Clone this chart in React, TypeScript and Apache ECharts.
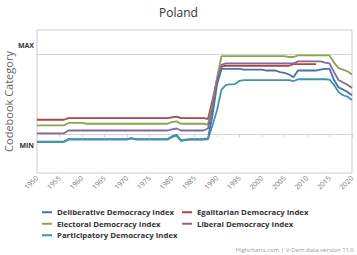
import React, { useEffect, useRef } from "react";
import * as echarts from "echarts";

const startYear = 1950;
const bandStartYear = 1988;
const xTicks = { min: 1950, max: 2020, step: 5 };
const gridValues = [0, 1];
const yLabelValues = [-0.138, 1.109];

const deliberative = [
  -0.095, -0.095, -0.095, -0.095, -0.095, -0.095, -0.095, -0.063, -0.063, -0.063,
  -0.063, -0.063, -0.063, -0.063, -0.063, -0.063, -0.063, -0.063, -0.063, -0.063,
  -0.063, -0.05, -0.063, -0.063, -0.063, -0.063, -0.063, -0.063, -0.063, -0.063,
  -0.03, -0.01, -0.08, -0.07, -0.065, -0.065, -0.065, -0.065, -0.055, 0.24,
  0.62, 0.82, 0.82, 0.82, 0.82, 0.82, 0.81, 0.81, 0.81, 0.81,
  0.81, 0.8, 0.8, 0.8, 0.78, 0.77, 0.75, 0.715, 0.8, 0.8,
  0.8, 0.8, 0.8, 0.81, 0.82, 0.82, 0.68, 0.59, 0.56, 0.53,
  0.49,
];
const egalitarian = [
  0.18, 0.18, 0.18, 0.18, 0.18, 0.18, 0.18, 0.2, 0.2, 0.2,
  0.2, 0.2, 0.2, 0.2, 0.2, 0.2, 0.2, 0.2, 0.2, 0.2,
  0.2, 0.2, 0.2, 0.2, 0.2, 0.2, 0.2, 0.2, 0.2, 0.2,
  0.21, 0.22, 0.2, 0.2, 0.2, 0.2, 0.2, 0.2, 0.19, 0.43,
  0.68, 0.85, 0.86, 0.86, 0.86, 0.86, 0.86, 0.86, 0.86, 0.86,
  0.86, 0.86, 0.86, 0.86, 0.86, 0.86, 0.86, 0.88, 0.88, 0.88,
  0.88, 0.88, 0.88, null, null, null, null, null, null, null,
  null,
];
const electoral = [
  0.11, 0.11, 0.11, 0.11, 0.11, 0.11, 0.11, 0.14, 0.14, 0.14,
  0.14, 0.13, 0.13, 0.13, 0.13, 0.13, 0.13, 0.13, 0.13, 0.13,
  0.13, 0.13, 0.13, 0.13, 0.13, 0.13, 0.13, 0.13, 0.13, 0.13,
  0.15, 0.16, 0.13, 0.13, 0.13, 0.13, 0.13, 0.13, 0.12, 0.38,
  0.71, 0.98, 0.98, 0.98, 0.98, 0.98, 0.98, 0.98, 0.98, 0.98,
  0.98, 0.98, 0.98, 0.98, 0.98, 0.98, 0.97, 0.97, 0.99, 0.99,
  0.99, 0.99, 0.99, 0.99, 0.99, 0.99, 0.9, 0.83, 0.81, 0.79,
  0.75,
];
const liberal = [
  0.01, 0.01, 0.01, 0.01, 0.01, 0.01, 0.01, 0.045, 0.045, 0.045,
  0.045, 0.045, 0.045, 0.045, 0.045, 0.045, 0.045, 0.045, 0.045, 0.045,
  0.045, 0.045, 0.045, 0.045, 0.045, 0.045, 0.045, 0.045, 0.045, 0.045,
  0.06, 0.07, 0.045, 0.045, 0.045, 0.045, 0.045, 0.045, 0.07, 0.33,
  0.66, 0.87, 0.89, 0.89, 0.89, 0.89, 0.89, 0.89, 0.89, 0.89,
  0.89, 0.89, 0.89, 0.89, 0.89, 0.89, 0.89, 0.89, 0.915, 0.915,
  0.915, 0.915, 0.915, 0.915, 0.9, 0.89, 0.78, 0.68, 0.65, 0.62,
  0.58,
];
const participatory = [
  -0.1, -0.1, -0.1, -0.1, -0.1, -0.1, -0.1, -0.07, -0.07, -0.07,
  -0.07, -0.07, -0.07, -0.07, -0.07, -0.07, -0.07, -0.07, -0.07, -0.07,
  -0.07, -0.055, -0.07, -0.07, -0.07, -0.07, -0.07, -0.07, -0.07, -0.07,
  -0.04, -0.02, -0.085, -0.075, -0.07, -0.07, -0.07, -0.07, -0.065, 0.11,
  0.3, 0.56, 0.62, 0.625, 0.63, 0.67, 0.68, 0.68, 0.68, 0.68,
  0.68, 0.68, 0.68, 0.68, 0.68, 0.68, 0.68, 0.665, 0.69, 0.69,
  0.69, 0.69, 0.69, 0.69, 0.69, 0.685, 0.62, 0.53, 0.49, 0.47,
  0.43,
];

// confidence-band half-widths, 1988-2020
const deliberativeBand = [
  0.02, 0.06, 0.06, 0.05, 0.05, 0.05, 0.05, 0.05, 0.05, 0.05, 0.05, 0.05,
  0.05, 0.05, 0.05, 0.05, 0.05, 0.05, 0.05, 0.05, 0.05, 0.05, 0.05, 0.05,
  0.05, 0.05, 0.05, 0.05, 0.05, 0.05, 0.05, 0.05, 0.05,
];
const egalitarianBand = [
  0.02, 0.05, 0.05, 0.04, 0.04, 0.04, 0.04, 0.04, 0.04, 0.04, 0.04, 0.04,
  0.04, 0.04, 0.04, 0.04, 0.04, 0.04, 0.04, 0.04, 0.04, 0.04, 0.04, 0.04,
  0.04, null, null, null, null, null, null, null, null,
];
const electoralBand = [
  0.02, 0.04, 0.04, 0.025, 0.025, 0.025, 0.025, 0.025, 0.025, 0.025, 0.025, 0.025,
  0.025, 0.025, 0.025, 0.025, 0.025, 0.025, 0.025, 0.025, 0.025, 0.025, 0.025, 0.025,
  0.025, 0.025, 0.025, 0.025, 0.03, 0.03, 0.03, 0.03, 0.03,
];
const liberalBand = [
  0.02, 0.06, 0.06, 0.055, 0.055, 0.055, 0.055, 0.055, 0.055, 0.055, 0.055, 0.055,
  0.055, 0.055, 0.055, 0.055, 0.055, 0.055, 0.055, 0.055, 0.055, 0.055, 0.055, 0.055,
  0.055, 0.055, 0.055, 0.055, 0.05, 0.05, 0.05, 0.05, 0.05,
];
const participatoryBand = [
  0.02, 0.06, 0.06, 0.06, 0.06, 0.06, 0.06, 0.06, 0.045, 0.045, 0.045, 0.045,
  0.045, 0.045, 0.045, 0.045, 0.045, 0.045, 0.045, 0.045, 0.045, 0.045, 0.045, 0.045,
  0.045, 0.045, 0.045, 0.045, 0.05, 0.05, 0.05, 0.05, 0.05,
];

const seriesDefs = [
  { name: "Deliberative Democracy Index", color: "#4572A7", values: deliberative, band: deliberativeBand },
  { name: "Egalitarian Democracy Index", color: "#AA4643", values: egalitarian, band: egalitarianBand },
  { name: "Electoral Democracy Index", color: "#89A54E", values: electoral, band: electoralBand },
  { name: "Liberal Democracy Index", color: "#80699B", values: liberal, band: liberalBand },
  { name: "Participatory Democracy Index", color: "#3D96AE", values: participatory, band: participatoryBand },
];

const FONT = "'Open Sans', 'DejaVu Sans', sans-serif";

function hexToRgba(hex: string, a: number) {
  const n = parseInt(hex.slice(1), 16);
  return `rgba(${(n >> 16) & 255},${(n >> 8) & 255},${n & 255},${a})`;
}

export default function App() {
  const ref = useRef<HTMLDivElement>(null);
  useEffect(() => {
    if (!ref.current) return;
    const chart = echarts.init(ref.current, undefined, { renderer: "svg" });
    const bandSeries: any[] = [];
    seriesDefs.forEach((s, i) => {
      const offset = bandStartYear - startYear;
      const lower = s.band.map((w, k) => {
        const v = s.values[offset + k];
        return [bandStartYear + k, w == null || v == null ? null : v - w];
      });
      const diff = s.band.map((w, k) => {
        const v = s.values[offset + k];
        return [bandStartYear + k, w == null || v == null ? null : 2 * w];
      });
      bandSeries.push({
        name: "band-low-" + i,
        type: "line",
        data: lower,
        stack: "band" + i,
        stackStrategy: "all",
        symbol: "none",
        showSymbol: false,
        silent: true,
        lineStyle: { opacity: 0, width: 0 },
        z: 1,
      });
      bandSeries.push({
        name: "band-range-" + i,
        type: "line",
        data: diff,
        stack: "band" + i,
        stackStrategy: "all",
        symbol: "none",
        showSymbol: false,
        silent: true,
        lineStyle: { opacity: 0, width: 0 },
        areaStyle: { color: hexToRgba(s.color, 0.18) },
        z: 1,
      });
    });
    const series: any[] = seriesDefs.map((s, i) => ({
      name: s.name,
      type: "line",
      data: s.values.map((v, k) => [startYear + k, v]),
      color: s.color,
      showSymbol: false,
      symbol: "none",
      lineStyle: { width: 1.8, color: s.color },
      z: 3,
      ...(i === 0
        ? {
            markLine: {
              silent: true,
              symbol: ["none", "none"],
              label: { show: false },
              lineStyle: { color: "#d4d4d4", width: 1, type: "solid" },
              data: gridValues.map((g) => ({ yAxis: g })),
              z: 1,
            },
          }
        : {}),
    }));
    const legendText = {
      fontSize: 7.8,
      fontWeight: "bold",
      color: "#333",
      lineHeight: 10.5,
      fontFamily: FONT,
    };
    chart.setOption({
      animation: false,
      textStyle: { fontFamily: FONT },
      title: {
        text: "Poland",
        left: "center",
        top: 1,
        textStyle: { fontSize: 12, fontWeight: "normal", color: "#333", fontFamily: FONT },
      },
      grid: {
        left: 37,
        right: 5,
        top: 30,
        bottom: 82,
        show: true,
        borderColor: "#cccccc",
        borderWidth: 1,
        outerBoundsMode: "none",
        containLabel: false,
      },
      xAxis: {
        type: "value",
        min: xTicks.min,
        max: xTicks.max,
        interval: xTicks.step,
        axisLine: { show: false },
        axisTick: { show: true, length: 3, lineStyle: { color: "#cccccc" } },
        splitLine: { show: false },
        axisLabel: {
          rotate: 45,
          fontSize: 7,
          color: "#777",
          margin: 4,
          fontFamily: FONT,
          formatter: (v: number) => String(v),
        },
      },
      yAxis: {
        type: "value",
        min: -0.49,
        max: 1.31,
        name: "Codebook Category",
        nameLocation: "middle",
        nameRotate: 90,
        nameGap: 23,
        nameMoveOverlap: false,
        nameTextStyle: { fontSize: 11, color: "#666", fontFamily: FONT },
        axisLine: { show: false },
        axisTick: { show: false },
        splitLine: { show: false },
        axisLabel: {
          customValues: yLabelValues,
          fontSize: 7,
          fontWeight: "bold",
          color: "#333",
          margin: 3,
          fontFamily: FONT,
          formatter: (v: number) => (v > 0.5 ? "MAX" : "MIN"),
        },
      },
      legend: [
        {
          data: [seriesDefs[0].name, seriesDefs[2].name, seriesDefs[4].name],
          orient: "vertical",
          left: 42,
          top: 207,
          padding: 0,
          itemGap: 1,
          itemWidth: 10,
          itemHeight: 2,
          icon: "rect",
          textStyle: legendText,
        },
        {
          data: [seriesDefs[1].name, seriesDefs[3].name],
          orient: "vertical",
          left: 182,
          top: 207,
          padding: 0,
          itemGap: 1,
          itemWidth: 10,
          itemHeight: 2,
          icon: "rect",
          textStyle: legendText,
        },
      ],
      graphic: [
        {
          type: "text",
          right: 3,
          bottom: 2,
          style: {
            text: "Highcharts.com | V-Dem data version 11.0",
            fontSize: 6,
            fill: "#999",
            fontFamily: FONT,
          },
        },
      ],
      series: [...bandSeries, ...series],
    });
    return () => chart.dispose();
  }, []);
  return (
    <div
      ref={ref}
      style={{ position: "fixed", left: 0, top: 0, width: 357, height: 255, background: "#fff" }}
    />
  );
}
